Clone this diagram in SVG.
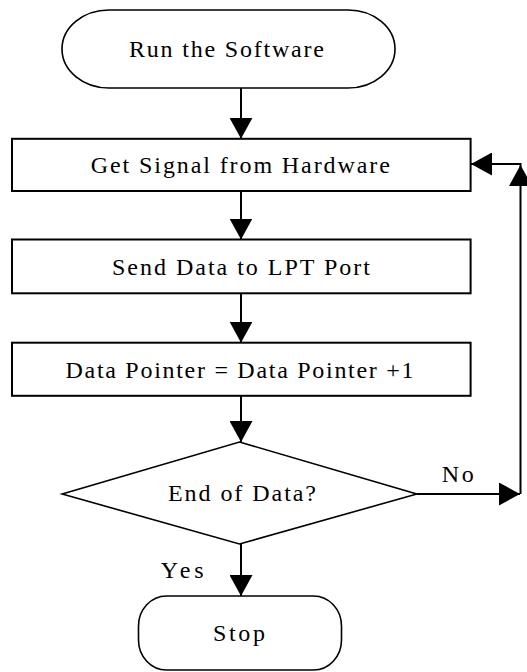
<svg xmlns="http://www.w3.org/2000/svg" width="527" height="672" viewBox="0 0 527 672">
<style>
.shape{fill:#fff;stroke:#000;stroke-width:2}
.term{fill:#fff;stroke:#000;stroke-width:1.6}
.lbl{font-family:"Liberation Serif","Times New Roman",serif;font-size:24px;fill:#000}
.conn{fill:none;stroke:#000;stroke-width:2}
</style>
<defs>
<marker id="ah" markerUnits="userSpaceOnUse" markerWidth="22" markerHeight="23" refX="21" refY="11.5" orient="auto">
<path d="M0,0 L21,11.5 L0,23 Z" fill="#000"/>
</marker>
</defs>
<rect width="527" height="672" fill="#fff"/>
<g id="connectors">
<path class="conn" d="M241,88 V138.8" marker-end="url(#ah)"/>
<path class="conn" d="M241,191 V239.5" marker-end="url(#ah)"/>
<path class="conn" d="M241,293.3 V342.7" marker-end="url(#ah)"/>
<path class="conn" d="M241,395.8 V442" marker-end="url(#ah)"/>
<path class="conn" d="M241,544 V596" marker-end="url(#ah)"/>
<path class="conn" d="M417,494 H520" marker-end="url(#ah)"/>
<path class="conn" d="M520.5,494 V165" marker-end="url(#ah)"/>
<path class="conn" d="M521.5,164 H471" marker-end="url(#ah)"/>
<text class="lbl" x="441.7" y="482" textLength="32" lengthAdjust="spacing">No</text>
<text class="lbl" x="160.7" y="578" textLength="43" lengthAdjust="spacing">Yes</text>
</g>
<g id="start">
<path class="term" d="M109,10 H348 A47,39 0 0 1 348,88 H109 A47,39 0 0 1 109,10 Z"/>
<text class="lbl" x="129" y="57" textLength="195" lengthAdjust="spacing">Run the Software</text>
</g>
<g id="get-signal">
<rect class="shape" x="12" y="138.8" width="458.6" height="52.2"/>
<text class="lbl" x="90.8" y="173" textLength="299" lengthAdjust="spacing">Get Signal from Hardware</text>
</g>
<g id="send-data">
<rect class="shape" x="12" y="239.5" width="458.6" height="53.8"/>
<text class="lbl" x="112" y="275" textLength="258" lengthAdjust="spacing">Send Data to LPT Port</text>
</g>
<g id="pointer">
<rect class="shape" x="12" y="342.7" width="458.6" height="53.1"/>
<text class="lbl" x="65.5" y="378" textLength="348" lengthAdjust="spacing">Data Pointer = Data Pointer +1</text>
</g>
<g id="decision">
<polygon class="term" points="239.5,442 416.8,494 239.5,544 62.2,494"/>
<text class="lbl" x="168" y="501" textLength="148" lengthAdjust="spacing">End of Data?</text>
</g>
<g id="stop">
<rect class="term" x="138.5" y="596" width="203" height="74" rx="28" ry="30"/>
<text class="lbl" x="213" y="641" textLength="52" lengthAdjust="spacing">Stop</text>
</g>
</svg>
